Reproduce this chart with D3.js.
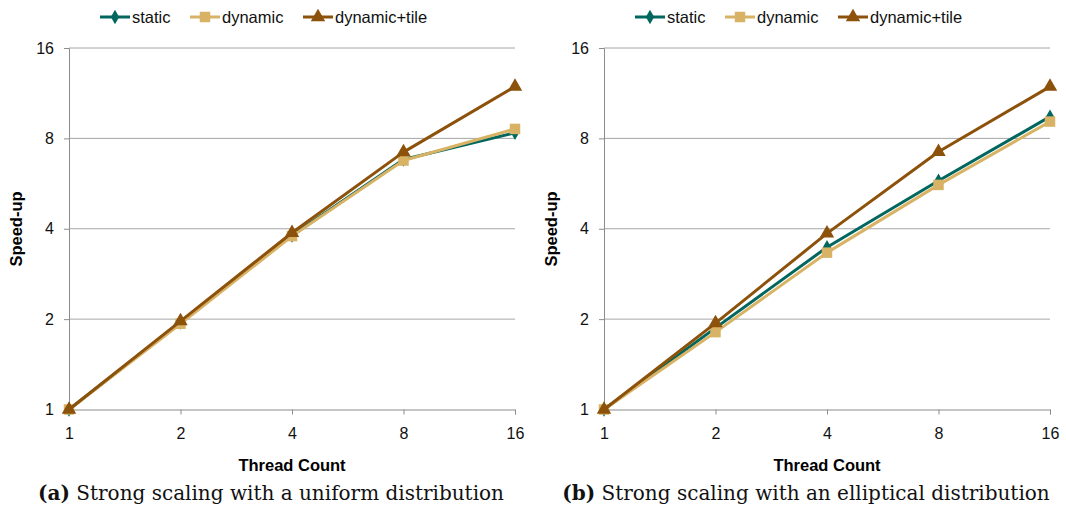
<!DOCTYPE html>
<html>
<head>
<meta charset="utf-8">
<script src="https://cdn.jsdelivr.net/npm/d3@7"></script>
<style>
  body { margin: 0; background: #fff; }
  svg text { font-family: "Liberation Sans", Arial, sans-serif; }
  .caption { font-family: "DejaVu Serif", serif; }
</style>
</head>
<body>
<div id="chart"></div>
<script>
// thread counts on the x axis
const threads = [1, 2, 4, 8, 16];
const yTicks = [1, 2, 4, 8, 16];
const seriesNames = ["static", "dynamic", "dynamic+tile"];

// speed-up, uniform distribution
const uniformStatic = [1, 1.95, 3.8, 6.8, 8.35];
const uniformDynamic = [1, 1.93, 3.78, 6.75, 8.6];
const uniformTile = [1, 1.97, 3.88, 7.2, 11.9];

// speed-up, elliptical distribution
const ellipStatic = [1, 1.87, 3.47, 5.78, 9.45];
const ellipDynamic = [1, 1.81, 3.33, 5.6, 9.1];
const ellipTile = [1, 1.94, 3.86, 7.22, 11.9];

const colors = ["#01665e", "#d8b365", "#8c510a"];
const symbols = [d3.symbolDiamond, d3.symbolSquare, d3.symbolTriangle];
const symSizes = [60, 110, 90];

const width = 1066, height = 510;
const svg = d3.select("#chart").append("svg")
  .attr("width", width).attr("height", height);

const panels = [
  {dx: 0, letter: "(a)", text: " Strong scaling with a uniform distribution",
   data: [uniformStatic, uniformDynamic, uniformTile]},
  {dx: 535, letter: "(b)", text: " Strong scaling with an elliptical distribution",
   data: [ellipStatic, ellipDynamic, ellipTile]}
];

panels.forEach(p => {
  const g = svg.append("g").attr("transform", `translate(${p.dx},0)`);

  const x = d3.scalePoint().domain(threads).range([69, 515]);
  const y = d3.scaleLog().base(2).domain([1, 16]).range([409.5, 48]);

  // horizontal gridlines
  g.append("g")
    .selectAll("line")
    .data(yTicks.slice(1))
    .join("line")
    .attr("x1", 69).attr("x2", 515)
    .attr("y1", d => y(d)).attr("y2", d => y(d))
    .attr("stroke", "#a6a6a6").attr("stroke-width", 1);

  // y axis
  const yaxis = d3.axisLeft(y).tickValues(yTicks).tickFormat(d3.format("d"))
    .tickSize(5).tickPadding(10);
  const ya = g.append("g").attr("transform", "translate(69,0)").call(yaxis);
  ya.select(".domain").attr("stroke", "#8c8c8c");
  ya.selectAll(".tick line").attr("stroke", "#8c8c8c");
  ya.selectAll(".tick text").attr("fill", "#111").style("font-size", "16px");

  // x axis
  const xaxis = d3.axisBottom(x).tickSize(5).tickPadding(13);
  const xa = g.append("g").attr("transform", "translate(0,409.5)").call(xaxis);
  xa.select(".domain").attr("stroke", "#8c8c8c");
  xa.selectAll(".tick line").attr("stroke", "#8c8c8c");
  xa.selectAll(".tick text").attr("fill", "#111").style("font-size", "16px");

  // axis titles
  g.append("text")
    .attr("transform", "translate(22,229) rotate(-90)")
    .attr("text-anchor", "middle")
    .style("font-size", "16.5px").style("font-weight", "bold")
    .text("Speed-up");
  g.append("text")
    .attr("x", 292).attr("y", 471)
    .attr("text-anchor", "middle")
    .style("font-size", "16.5px").style("font-weight", "bold")
    .text("Thread Count");

  // series lines + markers
  const line = d3.line().x((d, i) => x(threads[i])).y(d => y(d));
  p.data.forEach((vals, s) => {
    g.append("path")
      .datum(vals)
      .attr("d", line)
      .attr("fill", "none")
      .attr("stroke", colors[s])
      .attr("stroke-width", 3)
      .attr("stroke-linejoin", "round");
    g.append("g")
      .selectAll("path")
      .data(vals)
      .join("path")
      .attr("transform", (d, i) => `translate(${x(threads[i])},${y(d)})`)
      .attr("d", d3.symbol().type(symbols[s]).size(symSizes[s]))
      .attr("fill", colors[s]);
  });

  // legend
  const legX = [100, 190, 303];
  seriesNames.forEach((name, s) => {
    const lg = g.append("g").attr("transform", `translate(${legX[s]},17)`);
    lg.append("line").attr("x1", 0).attr("x2", 30)
      .attr("stroke", colors[s]).attr("stroke-width", 3);
    lg.append("path")
      .attr("transform", "translate(15,0)")
      .attr("d", d3.symbol().type(symbols[s]).size(symSizes[s]))
      .attr("fill", colors[s]);
    lg.append("text").attr("x", 32).attr("y", 6)
      .style("font-size", "16.5px").attr("fill", "#111")
      .text(name);
  });

  // caption
  const cap = g.append("text").attr("class", "caption")
    .attr("x", 271).attr("y", 500)
    .attr("text-anchor", "middle")
    .style("font-size", "20px").attr("fill", "#111");
  cap.append("tspan").style("font-weight", "bold").text(p.letter);
  cap.append("tspan").text(p.text);
});
</script>
</body>
</html>
